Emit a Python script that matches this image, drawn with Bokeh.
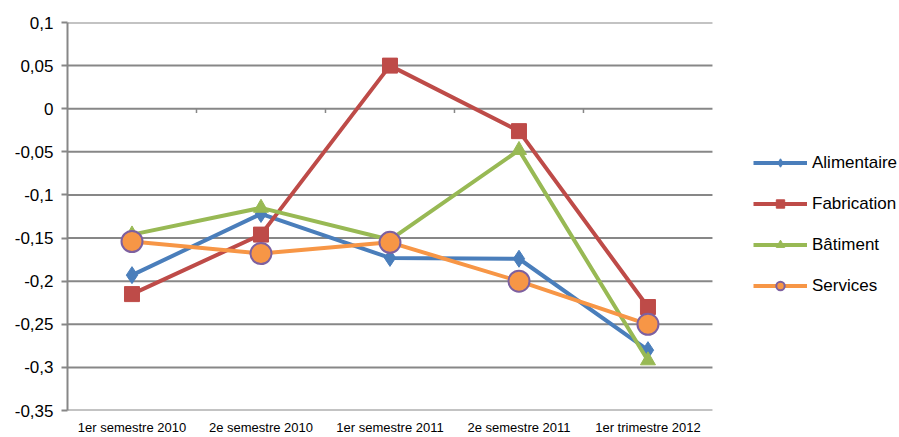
from bokeh.plotting import figure
from bokeh.models import Range1d, FixedTicker, Legend, LegendItem
from bokeh.embed import file_html
from bokeh.resources import INLINE

categories = ["1er semestre 2010", "2e semestre 2010", "1er semestre 2011",
              "2e semestre 2011", "1er trimestre 2012"]
alimentaire = [-0.193, -0.122, -0.173, -0.174, -0.280]
fabrication = [-0.215, -0.146, 0.050, -0.026, -0.230]
batiment = [-0.146, -0.115, -0.152, -0.048, -0.292]
services = [-0.154, -0.168, -0.155, -0.200, -0.250]
y_ticks = [-0.35, -0.3, -0.25, -0.2, -0.15, -0.1, -0.05, 0.0, 0.05, 0.1]
y_tick_labels = ["-0,35", "-0,3", "-0,25", "-0,2", "-0,15", "-0,1", "-0,05", "0", "0,05", "0,1"]

FONT = "Liberation Sans"
GRID = "#878787"

xs = list(range(len(categories)))
x_start = xs[0] - 0.5
x_end = xs[-1] + 0.5

# frame extends past the last category to leave room for the legend
p = figure(width=899, height=437, x_range=Range1d(x_start, 5.95),
           y_range=Range1d(y_ticks[0], y_ticks[-1]), output_backend="svg", toolbar_location=None,
           min_border_left=67, min_border_right=0, min_border_top=22, min_border_bottom=26)
p.outline_line_color = None
p.xgrid.grid_line_color = None
p.ygrid.grid_line_color = None

# horizontal gridlines limited to the category area
p.segment(x0=[x_start] * len(y_ticks), y0=y_ticks, x1=[x_end] * len(y_ticks), y1=y_ticks,
          line_color=GRID, line_width=2)

p.yaxis.ticker = FixedTicker(ticks=y_ticks)
p.yaxis.major_label_overrides = {t: l for t, l in zip(y_ticks, y_tick_labels)}
p.yaxis.axis_line_color = GRID
p.yaxis.axis_line_width = 2
p.yaxis.major_tick_line_color = GRID
p.yaxis.major_tick_line_width = 2
p.yaxis.major_tick_out = 6
p.yaxis.major_tick_in = 0
p.yaxis.minor_tick_line_color = None
p.yaxis.major_label_text_font = FONT
p.yaxis.major_label_text_font_size = "17px"
p.yaxis.major_label_text_color = "#000000"
p.yaxis.major_label_standoff = 8

p.xaxis.ticker = FixedTicker(ticks=xs)
p.xaxis.major_label_overrides = {i: c for i, c in zip(xs, categories)}
p.xaxis.axis_line_color = None
p.xaxis.major_tick_line_color = None
p.xaxis.major_tick_out = 0
p.xaxis.major_tick_in = 0
p.xaxis.minor_tick_line_color = None
p.xaxis.minor_tick_out = 0
p.xaxis.minor_tick_in = 0
p.xaxis.major_label_text_font = FONT
p.xaxis.major_label_text_font_size = "13px"
p.xaxis.major_label_text_color = "#000000"
p.xaxis.major_label_standoff = 9

# small tick marks on the zero line at category boundaries
bounds = [x + 0.5 for x in xs[:-1]]
p.segment(x0=bounds, y0=[0.0] * len(bounds), x1=bounds, y1=[-0.005] * len(bounds),
          line_color=GRID, line_width=1.5)

series = [
    ("Alimentaire", alimentaire, "#4A7EBB"),
    ("Fabrication", fabrication, "#BE4B48"),
    ("Bâtiment", batiment, "#98B954"),
    ("Services", services, "#F79646"),
]
items = []
for name, vals, col in series:
    l = p.line(xs, vals, line_color=col, line_width=4)
    if name == "Alimentaire":
        m = p.scatter(xs, vals, marker="diamond", size=17, fill_color=col, line_color=col)
    elif name == "Fabrication":
        m = p.scatter(xs, vals, marker="square", size=15, fill_color=col, line_color=col)
    elif name == "Bâtiment":
        m = p.scatter(xs, vals, marker="triangle", size=15, fill_color=col, line_color=col)
    else:
        m = p.scatter(xs, vals, marker="circle", size=21, fill_color=col,
                      line_color="#7D60A0", line_width=2)
    items.append(LegendItem(label=name, renderers=[l, m]))

legend = Legend(items=items, location=(686, 114))
legend.border_line_color = None
legend.background_fill_alpha = 0
legend.padding = 0
legend.margin = 0
legend.spacing = 20
legend.glyph_width = 54
legend.glyph_height = 21
legend.label_height = 21
legend.label_standoff = 5
legend.label_text_font = FONT
legend.label_text_font_size = "17px"
legend.label_text_color = "#000000"
p.add_layout(legend, "center")

open("out.html", "w").write(file_html(p, INLINE))
